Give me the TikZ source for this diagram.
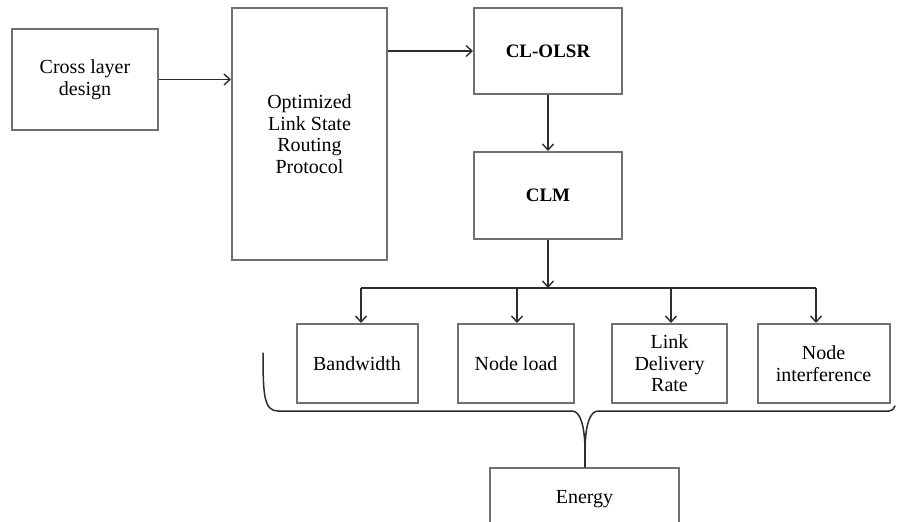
\documentclass[tikz,border=0pt]{standalone}
\usepackage{fontspec}
\setmainfont{Liberation Serif}
\usetikzlibrary{arrows.meta}
\definecolor{boxgray}{RGB}{112,112,112}
\definecolor{linegray}{RGB}{45,45,45}
\tikzset{
  blk/.style={draw=boxgray, line width=2pt, fill=white, inner sep=2pt, align=center,
    font=\fontsize{20}{21.5}\selectfont, text=black},
  conn/.style={draw=linegray, line width=1.4pt},
  arr/.style={conn, -{Straight Barb[length=6pt,width=11pt,line width=1.4pt]}},
  bracel/.style={draw=linegray, line width=1.5pt, line cap=round}
}
\begin{document}
\begin{tikzpicture}[x=1pt,y=-1pt]
\useasboundingbox (0,0) rectangle (897,522);
\clip (0,0) rectangle (897,522);
\fill[white] (0,0) rectangle (897,522);
% boxes
\node[blk, minimum width=146pt, minimum height=101pt] (cross) at (85,79.5) {Cross layer\\design};
\node[blk, minimum width=155pt, minimum height=252pt] (olsr) at (309.5,134) {Optimized\\Link State\\Routing\\Protocol};
\node[blk, minimum width=148pt, minimum height=86pt, font=\fontsize{19}{21}\selectfont\bfseries] (clolsr) at (548,51) {CL-OLSR};
\node[blk, minimum width=148pt, minimum height=87pt, font=\fontsize{19}{21}\selectfont\bfseries] (clm) at (548,195.5) {CLM};
\node[blk, minimum width=121pt, minimum height=79pt] (bw) at (357,363.5) {Bandwidth};
\node[blk, minimum width=116pt, minimum height=79pt] (nl) at (516,363.5) {Node load};
\node[blk, minimum width=115pt, minimum height=79pt] (ldr) at (669.5,363.5) {Link\\Delivery\\Rate};
\node[blk, minimum width=132pt, minimum height=79pt] (ni) at (823.5,363.5) {Node\\interference};
\node[blk, minimum width=189pt, minimum height=62pt] (energy) at (584.5,499) {\raisebox{-4pt}{Energy}};
% connectors
\draw[arr] (cross.east) -- (cross.east -| olsr.west);
\draw[arr] (clolsr.west -| olsr.east) -- (clolsr.west);
\draw[arr] (clolsr.south) -- (clm.north);
\coordinate (bus) at (548,288);
\coordinate (b1) at (361,288);
\coordinate (b2) at (517,288);
\coordinate (b3) at (671,288);
\coordinate (b4) at (816,288);
\draw[arr] (clm.south) -- (bus);
\draw[conn] (b1) -- (b4);
\draw[arr] (b1) -- (b1 |- bw.north);
\draw[arr] (b2) -- (b2 |- nl.north);
\draw[arr] (b3) -- (b3 |- ldr.north);
\draw[arr] (b4) -- (b4 |- ni.north);
% brace
\coordinate (cusp) at (585,452);
\draw[bracel] (263,353) .. controls (263,395) and (264,411) .. (278,411)
  -- (572,411) .. controls (580,411) and (585,425) .. (cusp);
\draw[bracel] (cusp) .. controls (585,425) and (590,411) .. (598,411)
  -- (889,411) .. controls (892,411) and (894,409) .. (895,406);
\draw[bracel] (cusp) -- (cusp |- energy.north);
\end{tikzpicture}
\end{document}
